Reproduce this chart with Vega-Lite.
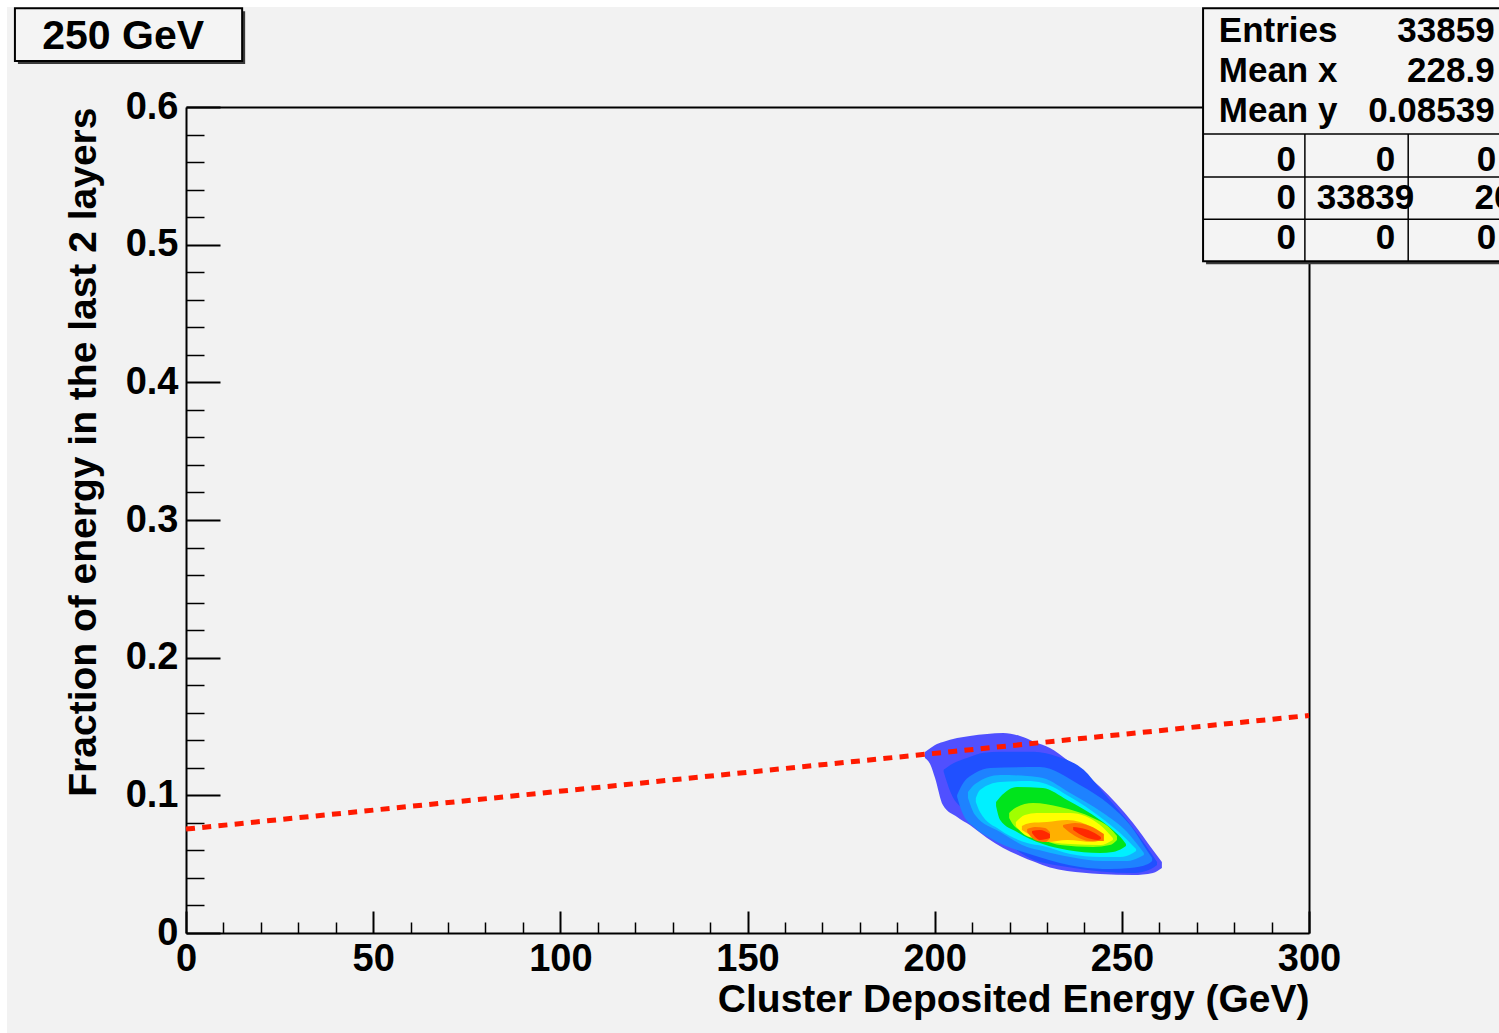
{
  "$schema": "https://vega.github.io/schema/vega-lite/v6.json",
  "autosize": {"type": "none"},
  "padding": {"left": 186, "top": 107, "right": 190, "bottom": 100},
  "width": 1123,
  "height": 826,
  "background": "#f2f2f2",
  "config": {
    "view": {"stroke": null},
    "font": "Liberation Sans",
    "axis": {"grid": false, "domainColor": "black", "tickColor": "black", "labelColor": "black", "titleColor": "black"}
  },
  "datasets": {
    "margins": [
      {"x": -60, "x2": -47.8, "y": 1, "y2": -1},
      {"x": -60, "x2": 400, "y": 1, "y2": 0.6726}
    ],
    "contours": [
      {"level": "L1", "part": "a", "x": 197.4, "top": 0.1315, "bot": 0.1271},
      {"level": "L1", "part": "a", "x": 198.9, "top": 0.1344, "bot": 0.1220},
      {"level": "L1", "part": "a", "x": 200.1, "top": 0.1366, "bot": 0.1126},
      {"level": "L1", "part": "a", "x": 202.2, "top": 0.1387, "bot": 0.0930},
      {"level": "L1", "part": "a", "x": 206.0, "top": 0.1416, "bot": 0.0843},
      {"level": "L1", "part": "a", "x": 209.4, "top": 0.1431, "bot": 0.0784},
      {"level": "L1", "part": "a", "x": 214.0, "top": 0.1445, "bot": 0.0690},
      {"level": "L1", "part": "a", "x": 218.3, "top": 0.1453, "bot": 0.0617},
      {"level": "L1", "part": "a", "x": 222.8, "top": 0.1431, "bot": 0.0560},
      {"level": "L1", "part": "a", "x": 226.8, "top": 0.1387, "bot": 0.0515},
      {"level": "L1", "part": "a", "x": 230.8, "top": 0.1344, "bot": 0.0475},
      {"level": "L1", "part": "a", "x": 235.4, "top": 0.1257, "bot": 0.0450},
      {"level": "L1", "part": "a", "x": 244.2, "top": 0.1061, "bot": 0.0429},
      {"level": "L1", "part": "a", "x": 253.0, "top": 0.0799, "bot": 0.0421},
      {"level": "L1", "part": "a", "x": 258.3, "top": 0.0603, "bot": 0.0436},
      {"level": "L1", "part": "a", "x": 260.7, "top": 0.0516, "bot": 0.0472},
      {"level": "L2", "part": "a", "x": 202.4, "top": 0.1185, "bot": 0.1171},
      {"level": "L2", "part": "a", "x": 204.3, "top": 0.1222, "bot": 0.1018},
      {"level": "L2", "part": "a", "x": 208.8, "top": 0.1273, "bot": 0.0873},
      {"level": "L2", "part": "a", "x": 213.1, "top": 0.1309, "bot": 0.0763},
      {"level": "L2", "part": "a", "x": 217.6, "top": 0.1316, "bot": 0.0683},
      {"level": "L2", "part": "a", "x": 226.5, "top": 0.1316, "bot": 0.0530},
      {"level": "L2", "part": "a", "x": 232.9, "top": 0.1280, "bot": 0.0490},
      {"level": "L2", "part": "a", "x": 239.8, "top": 0.1185, "bot": 0.0462},
      {"level": "L2", "part": "a", "x": 244.4, "top": 0.1040, "bot": 0.0447},
      {"level": "L2", "part": "a", "x": 253.2, "top": 0.0756, "bot": 0.0436},
      {"level": "L2", "part": "a", "x": 257.8, "top": 0.0582, "bot": 0.0465},
      {"level": "L2", "part": "a", "x": 259.4, "top": 0.0516, "bot": 0.0494},
      {"level": "L3", "part": "a", "x": 206.0, "top": 0.1002, "bot": 0.0988},
      {"level": "L3", "part": "a", "x": 207.3, "top": 0.1075, "bot": 0.0879},
      {"level": "L3", "part": "a", "x": 210.8, "top": 0.1162, "bot": 0.0763},
      {"level": "L3", "part": "a", "x": 214.8, "top": 0.1199, "bot": 0.0690},
      {"level": "L3", "part": "a", "x": 228.1, "top": 0.1206, "bot": 0.0550},
      {"level": "L3", "part": "a", "x": 238.8, "top": 0.1075, "bot": 0.0480},
      {"level": "L3", "part": "a", "x": 246.8, "top": 0.0930, "bot": 0.0465},
      {"level": "L3", "part": "a", "x": 252.2, "top": 0.0784, "bot": 0.0472},
      {"level": "L3", "part": "a", "x": 257.0, "top": 0.0588, "bot": 0.0501},
      {"level": "L3", "part": "a", "x": 258.1, "top": 0.0545, "bot": 0.0523},
      {"level": "L4", "part": "a", "x": 208.9, "top": 0.1024, "bot": 0.0981},
      {"level": "L4", "part": "a", "x": 210.8, "top": 0.1082, "bot": 0.0857},
      {"level": "L4", "part": "a", "x": 217.5, "top": 0.1148, "bot": 0.0734},
      {"level": "L4", "part": "a", "x": 224.7, "top": 0.1140, "bot": 0.0625},
      {"level": "L4", "part": "a", "x": 228.9, "top": 0.1126, "bot": 0.0596},
      {"level": "L4", "part": "a", "x": 236.2, "top": 0.1017, "bot": 0.0552},
      {"level": "L4", "part": "a", "x": 245.0, "top": 0.0872, "bot": 0.0523},
      {"level": "L4", "part": "a", "x": 251.4, "top": 0.0734, "bot": 0.0523},
      {"level": "L4", "part": "a", "x": 254.9, "top": 0.0617, "bot": 0.0552},
      {"level": "L4", "part": "a", "x": 255.9, "top": 0.0581, "bot": 0.0567},
      {"level": "L5", "part": "a", "x": 211.0, "top": 0.0981, "bot": 0.0952},
      {"level": "L5", "part": "a", "x": 212.1, "top": 0.1039, "bot": 0.0879},
      {"level": "L5", "part": "a", "x": 217.5, "top": 0.1097, "bot": 0.0748},
      {"level": "L5", "part": "a", "x": 224.7, "top": 0.1104, "bot": 0.0654},
      {"level": "L5", "part": "a", "x": 228.9, "top": 0.1090, "bot": 0.0632},
      {"level": "L5", "part": "a", "x": 236.2, "top": 0.0988, "bot": 0.0574},
      {"level": "L5", "part": "a", "x": 244.2, "top": 0.0843, "bot": 0.0552},
      {"level": "L5", "part": "a", "x": 249.5, "top": 0.0726, "bot": 0.0552},
      {"level": "L5", "part": "a", "x": 253.0, "top": 0.0632, "bot": 0.0581},
      {"level": "L5", "part": "a", "x": 253.8, "top": 0.0610, "bot": 0.0596},
      {"level": "L6", "part": "a", "x": 216.4, "top": 0.0952, "bot": 0.0922},
      {"level": "L6", "part": "a", "x": 217.5, "top": 0.0988, "bot": 0.0821},
      {"level": "L6", "part": "a", "x": 222.0, "top": 0.1061, "bot": 0.0734},
      {"level": "L6", "part": "a", "x": 228.9, "top": 0.1053, "bot": 0.0646},
      {"level": "L6", "part": "a", "x": 235.4, "top": 0.0966, "bot": 0.0603},
      {"level": "L6", "part": "a", "x": 244.2, "top": 0.0821, "bot": 0.0581},
      {"level": "L6", "part": "a", "x": 247.6, "top": 0.0748, "bot": 0.0588},
      {"level": "L6", "part": "a", "x": 250.3, "top": 0.0676, "bot": 0.0617},
      {"level": "L6", "part": "a", "x": 251.1, "top": 0.0646, "bot": 0.0632},
      {"level": "L7", "part": "a", "x": 219.9, "top": 0.0872, "bot": 0.0835},
      {"level": "L7", "part": "a", "x": 221.5, "top": 0.0908, "bot": 0.0770},
      {"level": "L7", "part": "a", "x": 226.3, "top": 0.0944, "bot": 0.0712},
      {"level": "L7", "part": "a", "x": 233.5, "top": 0.0915, "bot": 0.0639},
      {"level": "L7", "part": "a", "x": 242.3, "top": 0.0835, "bot": 0.0625},
      {"level": "L7", "part": "a", "x": 246.8, "top": 0.0763, "bot": 0.0639},
      {"level": "L7", "part": "a", "x": 248.7, "top": 0.0705, "bot": 0.0676},
      {"level": "L8", "part": "a", "x": 221.7, "top": 0.0806, "bot": 0.0777},
      {"level": "L8", "part": "a", "x": 224.1, "top": 0.0857, "bot": 0.0712},
      {"level": "L8", "part": "a", "x": 227.3, "top": 0.0872, "bot": 0.0683},
      {"level": "L8", "part": "a", "x": 236.2, "top": 0.0872, "bot": 0.0646},
      {"level": "L8", "part": "a", "x": 244.2, "top": 0.0784, "bot": 0.0639},
      {"level": "L8", "part": "a", "x": 247.6, "top": 0.0690, "bot": 0.0676},
      {"level": "L9", "part": "a", "x": 223.3, "top": 0.0777, "bot": 0.0748},
      {"level": "L9", "part": "a", "x": 225.5, "top": 0.0799, "bot": 0.0712},
      {"level": "L9", "part": "a", "x": 230.0, "top": 0.0806, "bot": 0.0661},
      {"level": "L9", "part": "a", "x": 235.4, "top": 0.0821, "bot": 0.0676},
      {"level": "L9", "part": "a", "x": 242.3, "top": 0.0763, "bot": 0.0661},
      {"level": "L9", "part": "a", "x": 245.0, "top": 0.0712, "bot": 0.0683},
      {"level": "L10", "part": "a", "x": 224.7, "top": 0.0755, "bot": 0.0734},
      {"level": "L10", "part": "a", "x": 226.8, "top": 0.0770, "bot": 0.0676},
      {"level": "L10", "part": "a", "x": 229.5, "top": 0.0763, "bot": 0.0661},
      {"level": "L10", "part": "a", "x": 230.8, "top": 0.0734, "bot": 0.0690},
      {"level": "L10", "part": "b", "x": 234.3, "top": 0.0784, "bot": 0.0770},
      {"level": "L10", "part": "b", "x": 237.5, "top": 0.0799, "bot": 0.0705},
      {"level": "L10", "part": "b", "x": 241.5, "top": 0.0777, "bot": 0.0668},
      {"level": "L10", "part": "b", "x": 245.2, "top": 0.0719, "bot": 0.0668},
      {"level": "L11", "part": "a", "x": 226.0, "top": 0.0741, "bot": 0.0726},
      {"level": "L11", "part": "a", "x": 228.1, "top": 0.0748, "bot": 0.0676},
      {"level": "L11", "part": "a", "x": 230.8, "top": 0.0719, "bot": 0.0690},
      {"level": "L11", "part": "b", "x": 237.0, "top": 0.0770, "bot": 0.0748},
      {"level": "L11", "part": "b", "x": 240.2, "top": 0.0755, "bot": 0.0697},
      {"level": "L11", "part": "b", "x": 243.6, "top": 0.0712, "bot": 0.0676},
      {"level": "L11", "part": "b", "x": 244.4, "top": 0.0697, "bot": 0.0683}
    ],
    "cut": [
      {"x": 0, "y": 0.0755},
      {"x": 300, "y": 0.158}
    ],
    "boxes": [
      {"x": -45.7, "x2": 15.0, "y": 0.6718, "y2": 0.6335},
      {"x": 271.7, "x2": 360, "y": 0.6718, "y2": 0.488}
    ],
    "gridlines": [
      {"x": 271.7, "x2": 360, "y": 0.5804, "y2": 0.5804},
      {"x": 271.7, "x2": 360, "y": 0.5491, "y2": 0.5491},
      {"x": 271.7, "x2": 360, "y": 0.5185, "y2": 0.5185},
      {"x": 298.9, "x2": 298.9, "y": 0.5804, "y2": 0.488},
      {"x": 326.5, "x2": 326.5, "y": 0.5804, "y2": 0.488}
    ],
    "statsLeft": [
      {"t": "Entries", "x": 275.9, "y": 0.6473},
      {"t": "Mean x", "x": 275.9, "y": 0.6182},
      {"t": "Mean y", "x": 275.9, "y": 0.5891}
    ],
    "statsRight": [
      {"t": "33859", "x": 349.6, "y": 0.6473},
      {"t": "228.9", "x": 349.6, "y": 0.6182},
      {"t": "0.08539", "x": 349.6, "y": 0.5891},
      {"t": "0", "x": 296.5, "y": 0.5535},
      {"t": "0", "x": 323.0, "y": 0.5535},
      {"t": "0", "x": 350.0, "y": 0.5535},
      {"t": "0", "x": 296.5, "y": 0.5258},
      {"t": "33839", "x": 328.1, "y": 0.5258},
      {"t": "20", "x": 354.6, "y": 0.5258},
      {"t": "0", "x": 296.5, "y": 0.4967},
      {"t": "0", "x": 323.0, "y": 0.4967},
      {"t": "0", "x": 350.0, "y": 0.4967}
    ],
    "label": [
      {"t": "250 GeV", "x": -16.8, "y": 0.6422}
    ]
  },
  "layer": [
    {
      "data": {"name": "margins"},
      "mark": {"type": "rect", "fill": "#ffffff"},
      "encoding": {
        "x": {"field": "x", "type": "quantitative", "axis": null},
        "x2": {"field": "x2"},
        "y": {"field": "y", "type": "quantitative", "axis": null},
        "y2": {"field": "y2"}
      }
    },
    {
      "data": {"name": "contours"},
      "mark": {"type": "area", "interpolate": "monotone"},
      "encoding": {
        "x": {
          "field": "x", "type": "quantitative",
          "scale": {"domain": [0, 300], "nice": false, "zero": false},
          "axis": {
            "orient": "bottom", "values": [0, 50, 100, 150, 200, 250, 300],
            "tickSize": -22, "tickWidth": 2, "domainWidth": 2,
            "labelFontSize": 38, "labelFontWeight": "bold", "labelPadding": 29,
            "labelFlush": false, "labelOverlap": false,
            "title": "Cluster Deposited Energy (GeV)", "titleFontSize": 39, "titleFontWeight": "bold",
            "titleAnchor": "end", "titlePadding": 2
          }
        },
        "y": {
          "field": "top", "type": "quantitative", "stack": null,
          "scale": {"domain": [0, 0.6], "nice": false, "zero": false},
          "axis": {
            "orient": "left", "values": [0, 0.1, 0.2, 0.3, 0.4, 0.5, 0.6],
            "labelExpr": "datum.value == 0 ? '0' : format(datum.value, '.1f')",
            "tickSize": -34, "tickWidth": 2, "domainWidth": 2,
            "labelFontSize": 38, "labelFontWeight": "bold", "labelPadding": 42,
            "labelFlush": false, "labelOverlap": false,
            "title": "Fraction of energy in the last 2 layers", "titleFontSize": 39, "titleFontWeight": "bold",
            "titleAnchor": "end", "titlePadding": 22
          }
        },
        "y2": {"field": "bot"},
        "detail": {"field": "part"},
        "color": {
          "field": "level", "type": "nominal", "legend": null,
          "scale": {
            "domain": ["L1", "L2", "L3", "L4", "L5", "L6", "L7", "L8", "L9", "L10", "L11"],
            "range": ["#5050ff", "#2050ff", "#1e82ff", "#10b4ff", "#00f0ff", "#00e41c", "#a0ff00", "#ffff00", "#ffb000", "#ff7000", "#ff2800"]
          }
        }
      }
    },
    {
      "data": {"name": "cut"},
      "mark": {"type": "line", "color": "#ff1a00", "strokeWidth": 5, "strokeDash": [9, 7.3]},
      "encoding": {
        "x": {
          "field": "x", "type": "quantitative",
          "axis": {
            "orient": "bottom",
            "values": [10, 20, 30, 40, 60, 70, 80, 90, 110, 120, 130, 140, 160, 170, 180, 190, 210, 220, 230, 240, 260, 270, 280, 290],
            "tickSize": -11, "tickWidth": 1.5, "domain": false, "labels": false, "title": null
          }
        },
        "y": {
          "field": "y", "type": "quantitative",
          "axis": {
            "orient": "left",
            "values": [0.02, 0.04, 0.06, 0.08, 0.12, 0.14, 0.16, 0.18, 0.22, 0.24, 0.26, 0.28, 0.32, 0.34, 0.36, 0.38, 0.42, 0.44, 0.46, 0.48, 0.52, 0.54, 0.56, 0.58],
            "tickSize": -18, "tickWidth": 1.5, "domain": false, "labels": false, "title": null
          }
        }
      }
    },
    {
      "data": {"name": "boxes"},
      "mark": {"type": "rect", "fill": "#3a3a3a", "xOffset": 3, "x2Offset": 3, "yOffset": 3, "y2Offset": 3},
      "encoding": {
        "x": {"field": "x", "type": "quantitative", "axis": {"orient": "top", "ticks": false, "labels": false, "title": null, "domainWidth": 2}},
        "x2": {"field": "x2"},
        "y": {"field": "y", "type": "quantitative", "axis": {"orient": "right", "ticks": false, "labels": false, "title": null, "domainWidth": 2}},
        "y2": {"field": "y2"}
      }
    },
    {
      "data": {"name": "boxes"},
      "mark": {"type": "rect", "fill": "#f4f4f4", "stroke": "black", "strokeWidth": 2},
      "encoding": {
        "x": {"field": "x", "type": "quantitative", "axis": null},
        "x2": {"field": "x2"},
        "y": {"field": "y", "type": "quantitative", "axis": null},
        "y2": {"field": "y2"}
      }
    },
    {
      "data": {"name": "gridlines"},
      "mark": {"type": "rule", "color": "black", "strokeWidth": 1.5},
      "encoding": {
        "x": {"field": "x", "type": "quantitative", "axis": null},
        "x2": {"field": "x2"},
        "y": {"field": "y", "type": "quantitative", "axis": null},
        "y2": {"field": "y2"}
      }
    },
    {
      "data": {"name": "statsLeft"},
      "mark": {"type": "text", "align": "left", "baseline": "alphabetic", "fontSize": 35, "fontWeight": "bold", "color": "black"},
      "encoding": {
        "x": {"field": "x", "type": "quantitative", "axis": null},
        "y": {"field": "y", "type": "quantitative", "axis": null},
        "text": {"field": "t"}
      }
    },
    {
      "data": {"name": "statsRight"},
      "mark": {"type": "text", "align": "right", "baseline": "alphabetic", "fontSize": 35, "fontWeight": "bold", "color": "black"},
      "encoding": {
        "x": {"field": "x", "type": "quantitative", "axis": null},
        "y": {"field": "y", "type": "quantitative", "axis": null},
        "text": {"field": "t"}
      }
    },
    {
      "data": {"name": "label"},
      "mark": {"type": "text", "align": "center", "baseline": "alphabetic", "fontSize": 41, "fontWeight": "bold", "color": "black"},
      "encoding": {
        "x": {"field": "x", "type": "quantitative", "axis": null},
        "y": {"field": "y", "type": "quantitative", "axis": null},
        "text": {"field": "t"}
      }
    }
  ],
  "resolve": {"axis": {"x": "independent", "y": "independent"}}
}
